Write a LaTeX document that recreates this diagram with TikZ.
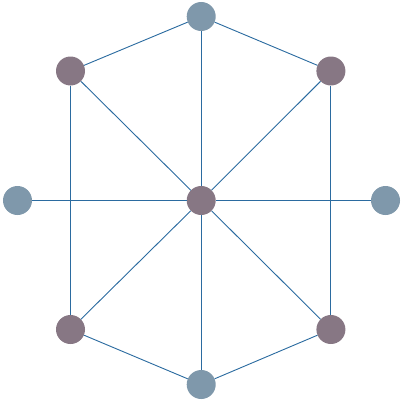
\documentclass[tikz,border=0pt]{standalone}
\usepackage{xcolor}
\usepackage{tikz}
\definecolor{slateblue}{RGB}{127,152,171}
\definecolor{mauvegray}{RGB}{135,119,132}
\definecolor{edgeblue}{RGB}{43,107,160}
\tikzset{
  outer/.style={circle,fill=slateblue,inner sep=0pt,minimum size=14.5mm},
  inner/.style={circle,fill=mauvegray,inner sep=0pt,minimum size=14.5mm},
  link/.style={draw=edgeblue,line width=1.3pt},
}

\begin{document}
\begin{tikzpicture}[x=0.5mm,y=-0.5mm]
  \useasboundingbox (0,0) rectangle (401,401);
  \node[inner] (center) at (201.2,200.5) {};
  \node[outer] (top) at (201.2,16.5) {};
  \node[outer] (bottom) at (201.2,384.5) {};
  \node[outer] (left) at (17.5,200.5) {};
  \node[outer] (right) at (385.5,200.5) {};
  \node[inner] (upleft) at (70.5,71) {};
  \node[inner] (upright) at (330.9,71) {};
  \node[inner] (lowleft) at (70.5,329.5) {};
  \node[inner] (lowright) at (330.9,329.5) {};

  % outer ring
  \draw[link] (top) -- (upleft);
  \draw[link] (upleft) -- (lowleft);
  \draw[link] (lowleft) -- (bottom);
  \draw[link] (bottom) -- (lowright);
  \draw[link] (lowright) -- (upright);
  \draw[link] (upright) -- (top);
  % spokes
  \draw[link] (top) -- (center);
  \draw[link] (center) -- (bottom);
  \draw[link] (left) -- (center);
  \draw[link] (center) -- (right);
  \draw[link] (upleft) -- (center);
  \draw[link] (upright) -- (center);
  \draw[link] (lowleft) -- (center);
  \draw[link] (lowright) -- (center);
\end{tikzpicture}
\end{document}
